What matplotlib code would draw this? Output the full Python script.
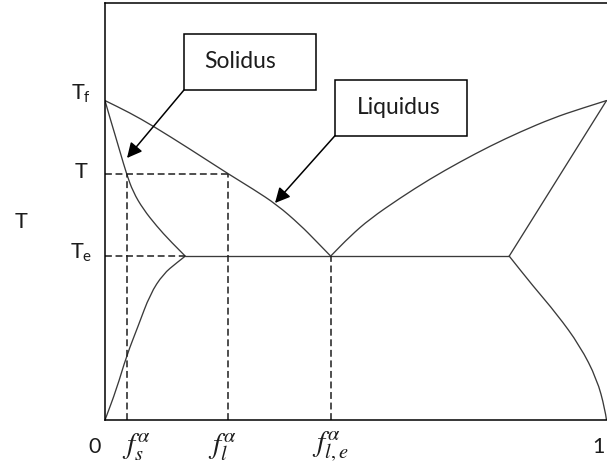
import matplotlib
matplotlib.use("Agg")
import matplotlib.pyplot as plt
from matplotlib.patches import Rectangle, PathPatch
from matplotlib.path import Path

# ---- phase-diagram data (x: fraction of alpha, y: normalised temperature) ----
T_f = 0.766      # melting temperature of the pure phase
T_1 = 0.590      # working temperature T
T_e = 0.393      # eutectic temperature

f_s = 0.043      # solid fraction at T
f_l = 0.246      # liquid fraction at T
f_le = 0.450     # eutectic liquid composition
f_se = 0.160     # left solid composition at T_e
f_re = 0.806     # right solid composition at T_e

solidus_x = [0.000, 0.010, 0.020, 0.030, 0.043, 0.056, 0.076, 0.103, 0.130, 0.160]
solidus_y = [0.766, 0.724, 0.684, 0.643, 0.590, 0.547, 0.506, 0.465, 0.429, 0.393]

liquidus_left_x = [0.000, 0.049, 0.096, 0.169, 0.246, 0.295, 0.343, 0.389, 0.421, 0.450]
liquidus_left_y = [0.766, 0.737, 0.705, 0.650, 0.590, 0.554, 0.516, 0.468, 0.429, 0.393]

solvus_left_x = [0.000, 0.023, 0.043, 0.066, 0.090, 0.116, 0.143, 0.160]
solvus_left_y = [0.000, 0.074, 0.154, 0.225, 0.302, 0.350, 0.377, 0.393]

liquidus_right_x = [0.450, 0.489, 0.528, 0.588, 0.648, 0.708, 0.768, 0.828, 0.893, 0.947, 1.000]
liquidus_right_y = [0.393, 0.441, 0.482, 0.532, 0.578, 0.619, 0.657, 0.691, 0.724, 0.746, 0.766]

solidus_right_x = [0.806, 1.000]
solidus_right_y = [0.393, 0.766]

solvus_right_x = [0.806, 0.853, 0.901, 0.947, 0.981, 0.997, 1.000]
solvus_right_y = [0.393, 0.322, 0.254, 0.178, 0.098, 0.026, 0.000]

y_labels = ["T$_\\mathrm{f}$", "T", "T$_\\mathrm{e}$"]
x_labels = ["0", r"$f_s^{\alpha}$", r"$f_l^{\alpha}$", r"$f_{l,e}^{\alpha}$", "1"]

# ---- style ----
plt.rcParams["font.family"] = ["Lato", "DejaVu Sans"]
plt.rcParams["mathtext.fontset"] = "custom"
plt.rcParams["mathtext.rm"] = "Lato"
plt.rcParams["mathtext.it"] = "Lato:italic"

W, H = 607, 464
fig = plt.figure(figsize=(W / 100, H / 100), dpi=100)
ax = fig.add_axes([105 / W, 43 / H, 501.5 / W, 417 / H])
ax.set_xlim(0, 1)
ax.set_ylim(0, 1)
ax.set_xticks([])
ax.set_yticks([])
for side in ("left", "bottom", "top"):
    ax.spines[side].set_linewidth(1.1)
    ax.spines[side].set_color("black")
ax.spines["right"].set_visible(False)

curve_style = dict(edgecolor="#3a3a3a", facecolor="none", lw=0.95, capstyle="round")


def smooth_curve(xs, ys):
    """Quadratic-Bezier path using the sampled points as control points."""
    pts = list(zip(xs, ys))
    if len(pts) < 3:
        return Path(pts, [Path.MOVETO, Path.LINETO])
    verts = [pts[0]]
    codes = [Path.MOVETO]
    mid = lambda a, b: ((a[0] + b[0]) / 2, (a[1] + b[1]) / 2)
    verts.append(mid(pts[0], pts[1]))
    codes.append(Path.LINETO)
    n = len(pts)
    for i in range(1, n - 1):
        end = pts[i + 1] if i == n - 2 else mid(pts[i], pts[i + 1])
        verts += [pts[i], end]
        codes += [Path.CURVE3, Path.CURVE3]
    return Path(verts, codes)


for xs, ys in [(solidus_x, solidus_y), (liquidus_left_x, liquidus_left_y),
               (solvus_left_x, solvus_left_y), (liquidus_right_x, liquidus_right_y),
               (solidus_right_x, solidus_right_y), (solvus_right_x, solvus_right_y),
               ([f_se, f_re], [T_e, T_e])]:
    ax.add_patch(PathPatch(smooth_curve(xs, ys), **curve_style))

dash = dict(color="#1e1e1e", lw=1.1, dashes=(4.5, 2.4))
ax.plot([0, f_l], [T_1, T_1], **dash)
ax.plot([0, f_se], [T_e, T_e], **dash)
ax.plot([f_s, f_s], [0, T_1], **dash)
ax.plot([f_l, f_l], [0, T_1], **dash)
ax.plot([f_le, f_le], [0, T_e], **dash)

# ---- callout boxes with arrows ----
txt_col = "#1c1c1c"
box = dict(fill=False, edgecolor="black", lw=1.1)
ax.add_patch(Rectangle((0.1575, 0.7914), 0.2632, 0.1343, **box))
ax.add_patch(Rectangle((0.4586, 0.6818), 0.2626, 0.1335, **box))
ax.text(0.2692, 0.8633, "Solidus", fontsize=16.5, ha="center", va="center", color=txt_col)
ax.text(0.5852, 0.7518, "Liquidus", fontsize=16.5, ha="center", va="center", color=txt_col)

arrow = dict(arrowstyle="-|>,head_length=0.9,head_width=0.45", color="black", lw=1.1,
             shrinkA=0, shrinkB=0)
ax.annotate("", xy=(0.0439, 0.6283), xytext=(0.1575, 0.7914), arrowprops=arrow)
ax.annotate("", xy=(0.339, 0.5204), xytext=(0.4586, 0.6818), arrowprops=arrow)

# ---- axis labels ----
ytr = ax.get_yaxis_transform()
for lab, yv in zip(y_labels, [0.784, 0.596, 0.404]):
    ax.text(-0.0475, yv, lab, transform=ytr, fontsize=15.5, ha="center", va="center",
            color=txt_col, clip_on=False)
ax.text(-0.167, 0.478, "T", transform=ytr, fontsize=15.5, ha="center", va="center",
        color=txt_col, clip_on=False)

xtr = ax.get_xaxis_transform()
for lab, xv in zip(x_labels, [-0.02, f_s + 0.02, f_l - 0.012, f_le, 0.984]):
    math = lab.startswith("$")
    ax.text(xv, -0.062, lab, transform=xtr, ha="center", va="center", color=txt_col,
            fontsize=21 if math else 15.5, clip_on=False,
            math_fontfamily="stix" if math else None)

fig.savefig("out.png", dpi=100)
